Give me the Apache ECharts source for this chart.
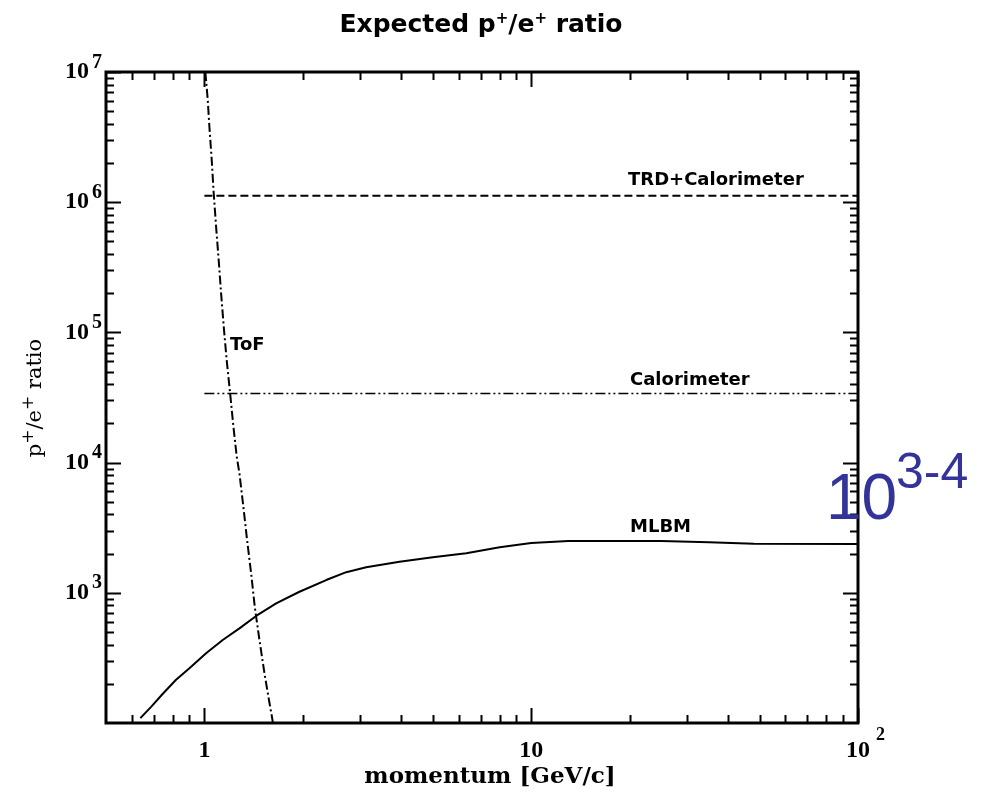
<!DOCTYPE html>
<html>
<head>
<meta charset="utf-8">
<title>Expected p+/e+ ratio</title>
<script src="https://cdn.jsdelivr.net/npm/echarts@6/dist/echarts.min.js"></script>
<style>
    html, body { margin: 0; padding: 0; background: #fff; }
    #chart { width: 988px; height: 795px; }
</style>
</head>
<body>
<div id="chart"></div>
<script>
// --- data ---
var mlbmP     = [0.637, 0.687, 0.745, 0.819, 0.9, 1.012, 1.138, 1.28, 1.44, 1.658, 1.954, 2.359, 2.717, 3.127, 3.955, 5.0, 6.33, 8.01, 10, 13, 16, 25, 35, 48, 100];
var mlbmRatio = [109, 133, 167, 215, 263, 343, 434, 533, 664, 830, 1019, 1253, 1440, 1570, 1735, 1875, 2012, 2234, 2410, 2500, 2505, 2500, 2445, 2385, 2370];

var tofP     = [1.007, 1.024, 1.036, 1.053, 1.068, 1.086, 1.106, 1.125, 1.146, 1.17, 1.199, 1.227, 1.256, 1.28, 1.316, 1.351, 1.39, 1.426, 1.474, 1.527, 1.57, 1.612, 1.621];
var tofRatio = [1e7, 6.1e6, 3.8e6, 2.11e6, 1.17e6, 6.49e5, 3.6e5, 2.0e5, 1.11e5, 6.14e4, 3.4e4, 1.89e4, 1.11e4, 8270, 4590, 2545, 1413, 782, 434, 241, 159, 109, 100];

var trdP     = [1, 100];
var trdRatio = [1.12e6, 1.12e6];

var calP     = [1, 100];
var calRatio = [3.4e4, 3.4e4];

// tick values
var xMajorTicks = [1, 10, 100];
var xMinorTicks = [0.6, 0.7, 0.8, 0.9, 2, 3, 4, 5, 6, 7, 8, 9, 20, 30, 40, 50, 60, 70, 80, 90];
var yMajorTicks = [1e3, 1e4, 1e5, 1e6, 1e7];
var yMinorTicks = [200, 300, 400, 500, 600, 700, 800, 900,
                   2000, 3000, 4000, 5000, 6000, 7000, 8000, 9000,
                   2e4, 3e4, 4e4, 5e4, 6e4, 7e4, 8e4, 9e4,
                   2e5, 3e5, 4e5, 5e5, 6e5, 7e5, 8e5, 9e5,
                   2e6, 3e6, 4e6, 5e6, 6e6, 7e6, 8e6, 9e6];

var xMin = 0.5, xMax = 100, yMin = 100, yMax = 1e7;
var MAJOR = 15, MINOR = 8;

function zip(xs, ys) {
    return xs.map(function (x, i) { return [x, ys[i]]; });
}

var xTickData = xMajorTicks.map(function (v) { return [v, yMin, MAJOR]; })
    .concat(xMinorTicks.map(function (v) { return [v, yMin, MINOR]; }));
var yTickData = yMajorTicks.map(function (v) { return [xMin, v, MAJOR]; })
    .concat(yMinorTicks.map(function (v) { return [xMin, v, MINOR]; }));

var tickStyle = { stroke: '#000', lineWidth: 2 };

function renderXTick(params, api) {
    var cs = params.coordSys;
    var p = api.coord([api.value(0), api.value(1)]);
    var len = api.value(2);
    var x = Math.round(p[0]) + 0.5;
    return {
        type: 'group',
        children: [
            { type: 'line', shape: { x1: x, y1: cs.y + cs.height, x2: x, y2: cs.y + cs.height - len }, style: tickStyle },
            { type: 'line', shape: { x1: x, y1: cs.y, x2: x, y2: cs.y + len }, style: tickStyle }
        ]
    };
}

function renderYTick(params, api) {
    var cs = params.coordSys;
    var p = api.coord([api.value(0), api.value(1)]);
    var len = api.value(2);
    var y = Math.round(p[1]) + 0.5;
    return {
        type: 'group',
        children: [
            { type: 'line', shape: { x1: cs.x, y1: y, x2: cs.x + len, y2: y }, style: tickStyle },
            { type: 'line', shape: { x1: cs.x + cs.width, y1: y, x2: cs.x + cs.width - len, y2: y }, style: tickStyle }
        ]
    };
}

function isPow(v) {
    var l = Math.log10(v);
    return Math.abs(l - Math.round(l)) < 1e-6;
}

var serifBold = { fontFamily: 'Liberation Serif', fontWeight: 'bold', color: '#000' };
var labelFont = 'bold 18px "DejaVu Sans"';

var chart = echarts.init(document.getElementById('chart'), null, { renderer: 'canvas' });

var option = {
    backgroundColor: '#fff',
    animation: false,
    grid: {
        left: 106, right: 130, top: 72, bottom: 72,
        show: true, borderColor: '#000', borderWidth: 3, backgroundColor: 'transparent'
    },
    xAxis: {
        type: 'log', logBase: 10, min: xMin, max: xMax,
        axisLine: { show: false },
        axisTick: { show: false },
        splitLine: { show: false },
        axisLabel: {
            margin: 4,
            showMinLabel: true, showMaxLabel: true,
            formatter: function (v) {
                if (!isPow(v)) return '';
                var e = Math.round(Math.log10(v));
                if (e === 0) return '{b|1}';
                if (e === 1) return '{b|10}';
                if (e === 2) return '{p|}{b|10}{s|2}';
                return '';
            },
            rich: {
                b: Object.assign({ fontSize: 24, lineHeight: 48 }, serifBold),
                s: Object.assign({ fontSize: 18, lineHeight: 17, padding: [0, 0, 31, 6] }, serifBold),
                p: { width: 15, lineHeight: 48 }
            }
        }
    },
    yAxis: {
        type: 'log', logBase: 10, min: yMin, max: yMax,
        axisLine: { show: false },
        axisTick: { show: false },
        splitLine: { show: false },
        axisLabel: {
            margin: 4,
            formatter: function (v) {
                if (!isPow(v)) return '';
                var e = Math.round(Math.log10(v));
                if (e < 3) return '';
                return '{b|10}{s|' + e + '}';
            },
            rich: {
                b: Object.assign({ fontSize: 24, lineHeight: 37 }, serifBold),
                s: Object.assign({ fontSize: 20, lineHeight: 18, padding: [0, 0, 19, 3] }, serifBold)
            }
        }
    },
    series: [
        {
            name: 'MLBM', type: 'line', data: zip(mlbmP, mlbmRatio),
            showSymbol: false, silent: true, clip: true,
            lineStyle: { color: '#000', width: 2 }
        },
        {
            name: 'ToF', type: 'line', data: zip(tofP, tofRatio),
            showSymbol: false, silent: true, clip: true,
            lineStyle: { color: '#000', width: 2, type: [9, 3, 2, 3] }
        },
        {
            name: 'TRD+Calorimeter', type: 'line', data: zip(trdP, trdRatio),
            showSymbol: false, silent: true,
            lineStyle: { color: '#000', width: 2, type: [8, 4] }
        },
        {
            name: 'Calorimeter', type: 'line', data: zip(calP, calRatio),
            showSymbol: false, silent: true,
            lineStyle: { color: '#000', width: 1.5, type: [10, 3, 2, 3, 2, 3] }
        },
        {
            type: 'custom', renderItem: renderXTick, data: xTickData,
            encode: { x: 0, y: 1 }, silent: true, clip: false, z: 5
        },
        {
            type: 'custom', renderItem: renderYTick, data: yTickData,
            encode: { x: 0, y: 1 }, silent: true, clip: false, z: 5
        }
    ],
    graphic: [
        {
            type: 'text', x: 481, y: 25,
            style: {
                text: 'Expected p{u|+}/e{u|+} ratio',
                font: 'bold 25px "DejaVu Sans"', fill: '#000',
                align: 'center', verticalAlign: 'middle',
                rich: { u: { fontFamily: 'DejaVu Sans', fontWeight: 'bold', fontSize: 15, padding: [0, 0, 12, 0] } }
            }
        },
        {
            type: 'text', x: 490, y: 777,
            style: {
                text: 'momentum [GeV/c]',
                font: 'bold 23px "DejaVu Serif"', fill: '#000',
                align: 'center', verticalAlign: 'middle'
            }
        },
        {
            type: 'text', x: 36, y: 398, rotation: Math.PI / 2,
            style: {
                text: 'p{u|+}/e{u|+} ratio',
                font: '21px "DejaVu Serif"', fill: '#000',
                align: 'center', verticalAlign: 'middle',
                rich: { u: { fontFamily: 'DejaVu Serif', fontSize: 17, padding: [0, 0, 14, 0] } }
            }
        },
        {
            type: 'text', x: 628, y: 180,
            style: { text: 'TRD+Calorimeter', font: labelFont, fill: '#000', verticalAlign: 'middle' }
        },
        {
            type: 'text', x: 630, y: 380,
            style: { text: 'Calorimeter', font: labelFont, fill: '#000', verticalAlign: 'middle' }
        },
        {
            type: 'text', x: 630, y: 527,
            style: { text: 'MLBM', font: labelFont, fill: '#000', verticalAlign: 'middle' }
        },
        {
            type: 'text', x: 230, y: 345,
            style: { text: 'ToF', font: labelFont, fill: '#000', verticalAlign: 'middle' }
        },
        {
            type: 'text', x: 826, y: 501, z: 100,
            style: { text: '10', font: '64px "Liberation Sans"', fill: '#333399', verticalAlign: 'middle' }
        },
        {
            type: 'text', x: 896, y: 474, z: 100,
            style: { text: '3-4', font: '50px "Liberation Sans"', fill: '#333399', verticalAlign: 'middle' }
        }
    ]
};

chart.setOption(option);
</script>
</body>
</html>
